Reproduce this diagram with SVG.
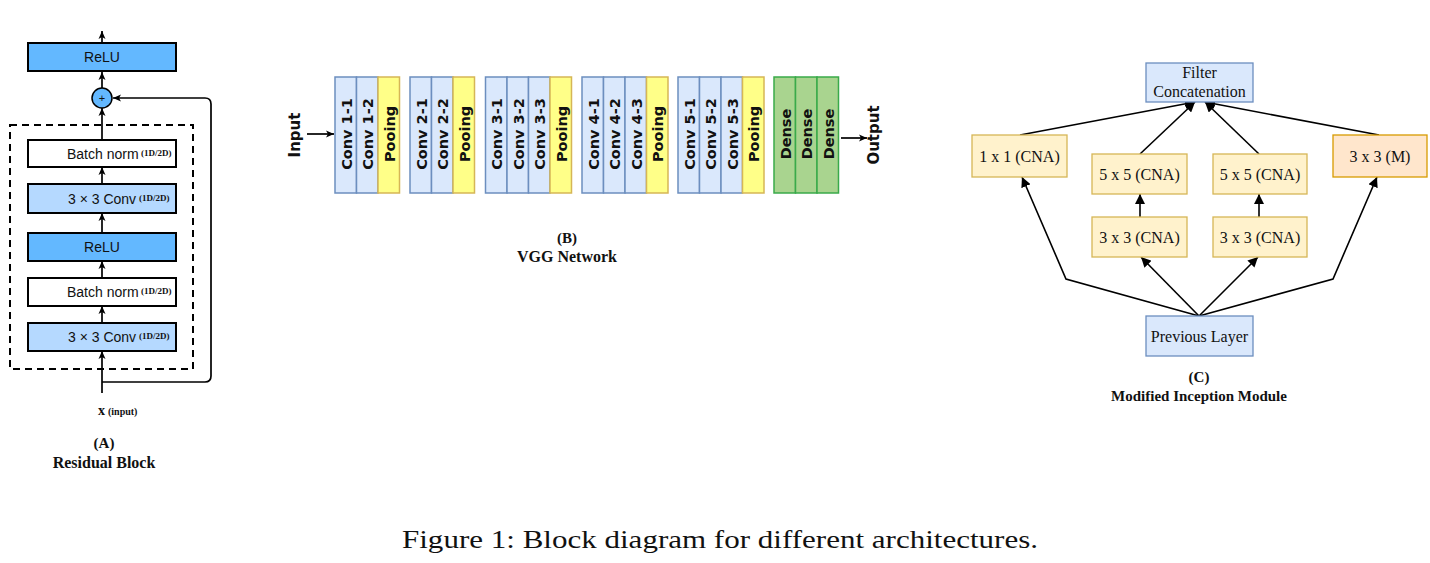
<svg xmlns="http://www.w3.org/2000/svg" width="1430" height="563" viewBox="0 0 1430 563">
<style>
.bx{stroke:#000;stroke-width:2}
.relu{fill:#63b8ff}
.conv{fill:#b5d9ff}
.bn{fill:#fff}
.ta{font-family:"Liberation Sans",Arial,sans-serif;font-size:14px;fill:#111}
.sup{font-family:"Liberation Serif","Times New Roman",serif;font-size:9px;font-weight:bold;fill:#111}
.la{stroke:#000;stroke-width:1.7;fill:none}
.ttl{font-family:"Liberation Serif","Times New Roman",serif;font-weight:bold;fill:#111;text-anchor:middle}
.cv{fill:#dae8fc;stroke:#6c8ebf;stroke-width:1.5}
.pl{fill:#ffff88;stroke:#d6b656;stroke-width:1.5}
.dn{fill:#a9d48f;stroke:#3aaa4a;stroke-width:1.5}
.tv{font-family:"DejaVu Sans",sans-serif;font-size:14.5px;font-weight:bold;fill:#111;text-anchor:middle}
.tio{font-family:"DejaVu Sans",sans-serif;font-size:15px;font-weight:bold;fill:#111;text-anchor:middle}
.y{fill:#fff2cc;stroke:#d6b656;stroke-width:1.3}
.o{fill:#ffe6cc;stroke:#d79b00;stroke-width:1.3}
.b{fill:#dae8fc;stroke:#6c8ebf;stroke-width:1.3}
.tc{font-family:"Liberation Serif","Times New Roman",serif;font-size:16px;fill:#111;text-anchor:middle}
.lc{stroke:#000;stroke-width:1.6;fill:none}
</style>
<defs>
<marker id="ma" markerUnits="userSpaceOnUse" markerWidth="9" markerHeight="8" refX="8" refY="4" orient="auto"><path d="M0,0.5 L8,4 L0,7.5 L2,4 z" fill="#000"/></marker>
<marker id="mc" markerUnits="userSpaceOnUse" markerWidth="11" markerHeight="10" refX="10" refY="5" orient="auto"><path d="M0,0 L10,5 L0,10 z" fill="#000"/></marker>
</defs>

<!-- Panel A -->
<g id="connectors-a">
<line class="la" x1="102" y1="43" x2="102" y2="31" marker-end="url(#ma)"/>
<line class="la" x1="102" y1="88" x2="102" y2="72" marker-end="url(#ma)"/>
<line class="la" x1="102" y1="140" x2="102" y2="108" marker-end="url(#ma)"/>
<line class="la" x1="102" y1="184" x2="102" y2="167" marker-end="url(#ma)"/>
<line class="la" x1="102" y1="233" x2="102" y2="213" marker-end="url(#ma)"/>
<line class="la" x1="102" y1="278" x2="102" y2="261" marker-end="url(#ma)"/>
<line class="la" x1="102" y1="323" x2="102" y2="306" marker-end="url(#ma)"/>
<line class="la" x1="102" y1="393" x2="102" y2="351" marker-end="url(#ma)"/>
<path class="la" d="M102,382 H205 Q211,382 211,376 V104 Q211,98 205,98 H113" marker-end="url(#ma)"/>
</g>
<rect id="dashed-block" x="10" y="125" width="183" height="244" fill="none" stroke="#000" stroke-width="2" stroke-dasharray="7,5"/>
<g id="a-relu-top"><rect class="bx relu" x="28" y="43" width="148" height="28"/><text class="ta" x="102" y="62" text-anchor="middle" font-size="13.5">ReLU</text></g>
<g id="a-add"><circle cx="102" cy="98" r="10" fill="#63b8ff" stroke="#000" stroke-width="1.5"/><text x="102" y="102" font-family="Liberation Sans,sans-serif" font-size="11" text-anchor="middle" fill="#111">+</text></g>
<g id="a-bn1"><rect class="bx bn" x="28" y="140" width="148" height="27"/><text class="ta" x="67" y="159">Batch norm</text><text class="sup" x="141" y="156">(1D/2D)</text></g>
<g id="a-conv1"><rect class="bx conv" x="28" y="184" width="148" height="29"/><text class="ta" x="68" y="204">3 × 3 Conv</text><text class="sup" x="139" y="201">(1D/2D)</text></g>
<g id="a-relu2"><rect class="bx relu" x="28" y="233" width="148" height="28"/><text class="ta" x="102" y="252" text-anchor="middle" font-size="13.5">ReLU</text></g>
<g id="a-bn2"><rect class="bx bn" x="28" y="278" width="148" height="28"/><text class="ta" x="67" y="297">Batch norm</text><text class="sup" x="141" y="294">(1D/2D)</text></g>
<g id="a-conv2"><rect class="bx conv" x="28" y="323" width="148" height="28"/><text class="ta" x="68" y="342">3 × 3 Conv</text><text class="sup" x="139" y="339">(1D/2D)</text></g>
<text x="98" y="415" font-family="Liberation Serif,serif" font-weight="bold" fill="#111"><tspan font-size="14">x</tspan><tspan font-size="10" dx="3">(input)</tspan></text>
<text class="ttl" x="104" y="448" font-size="15">(A)</text>
<text class="ttl" x="104" y="468" font-size="16">Residual Block</text>

<!-- Panel B -->
<g id="connectors-b">
<line class="la" x1="307" y1="134" x2="334" y2="134" marker-end="url(#ma)"/>
<line class="la" x1="841" y1="138" x2="867" y2="138" marker-end="url(#ma)"/>
</g>
<text class="tio" transform="translate(300,135) rotate(-90)">Input</text>
<text class="tio" transform="translate(879,135) rotate(-90)">Output</text>
<g id="b-block1">
<rect class="cv" x="335" y="77" width="21.5" height="116"/><text class="tv" transform="translate(351.5,134) rotate(-90)">Conv 1-1</text>
<rect class="cv" x="356.5" y="77" width="21.5" height="116"/><text class="tv" transform="translate(373,134) rotate(-90)">Conv 1-2</text>
<rect class="pl" x="378" y="77" width="21.5" height="116"/><text class="tv" transform="translate(394.5,134) rotate(-90)">Pooing</text>
</g>
<g id="b-block2">
<rect class="cv" x="410" y="77" width="21.5" height="116"/><text class="tv" transform="translate(426.5,134) rotate(-90)">Conv 2-1</text>
<rect class="cv" x="431.5" y="77" width="21.5" height="116"/><text class="tv" transform="translate(448,134) rotate(-90)">Conv 2-2</text>
<rect class="pl" x="453" y="77" width="21.5" height="116"/><text class="tv" transform="translate(469.5,134) rotate(-90)">Pooing</text>
</g>
<g id="b-block3">
<rect class="cv" x="485.5" y="77" width="21.5" height="116"/><text class="tv" transform="translate(502,134) rotate(-90)">Conv 3-1</text>
<rect class="cv" x="507" y="77" width="21.5" height="116"/><text class="tv" transform="translate(523.5,134) rotate(-90)">Conv 3-2</text>
<rect class="cv" x="528.5" y="77" width="21.5" height="116"/><text class="tv" transform="translate(545,134) rotate(-90)">Conv 3-3</text>
<rect class="pl" x="550" y="77" width="21.5" height="116"/><text class="tv" transform="translate(566.5,134) rotate(-90)">Pooing</text>
</g>
<g id="b-block4">
<rect class="cv" x="582" y="77" width="21.5" height="116"/><text class="tv" transform="translate(598.5,134) rotate(-90)">Conv 4-1</text>
<rect class="cv" x="603.5" y="77" width="21.5" height="116"/><text class="tv" transform="translate(620,134) rotate(-90)">Conv 4-2</text>
<rect class="cv" x="625" y="77" width="21.5" height="116"/><text class="tv" transform="translate(641.5,134) rotate(-90)">Conv 4-3</text>
<rect class="pl" x="646.5" y="77" width="21.5" height="116"/><text class="tv" transform="translate(663,134) rotate(-90)">Pooing</text>
</g>
<g id="b-block5">
<rect class="cv" x="678" y="77" width="21.5" height="116"/><text class="tv" transform="translate(694.5,134) rotate(-90)">Conv 5-1</text>
<rect class="cv" x="699.5" y="77" width="21.5" height="116"/><text class="tv" transform="translate(716,134) rotate(-90)">Conv 5-2</text>
<rect class="cv" x="721" y="77" width="21.5" height="116"/><text class="tv" transform="translate(737.5,134) rotate(-90)">Conv 5-3</text>
<rect class="pl" x="742.5" y="77" width="21.5" height="116"/><text class="tv" transform="translate(759,134) rotate(-90)">Pooing</text>
</g>
<g id="b-dense">
<rect class="dn" x="774" y="77" width="21.5" height="116"/><text class="tv" transform="translate(790.5,134) rotate(-90)">Dense</text>
<rect class="dn" x="795.5" y="77" width="21.5" height="116"/><text class="tv" transform="translate(812,134) rotate(-90)">Dense</text>
<rect class="dn" x="817" y="77" width="21.5" height="116"/><text class="tv" transform="translate(833.5,134) rotate(-90)">Dense</text>
</g>
<text class="ttl" x="567" y="243" font-size="15">(B)</text>
<text class="ttl" x="567" y="262" font-size="16">VGG Network</text>

<!-- Panel C -->
<g id="connectors-c">
<line class="lc" x1="1020" y1="135" x2="1195" y2="102" marker-end="url(#mc)"/>
<line class="lc" x1="1140" y1="154" x2="1195" y2="102" marker-end="url(#mc)"/>
<line class="lc" x1="1259" y1="154" x2="1205" y2="102" marker-end="url(#mc)"/>
<line class="lc" x1="1379" y1="135" x2="1205" y2="102" marker-end="url(#mc)"/>
<line class="lc" x1="1140" y1="217" x2="1140" y2="194" marker-end="url(#mc)"/>
<line class="lc" x1="1259" y1="217" x2="1259" y2="194" marker-end="url(#mc)"/>
<line class="lc" x1="1199" y1="316" x2="1141" y2="257" marker-end="url(#mc)"/>
<line class="lc" x1="1199" y1="316" x2="1258" y2="257" marker-end="url(#mc)"/>
<polyline class="lc" points="1199,316 1066,279 1022,177" marker-end="url(#mc)"/>
<polyline class="lc" points="1199,316 1333,279 1377,177" marker-end="url(#mc)"/>
</g>
<g id="c-filter"><rect class="b" x="1146" y="63" width="107" height="39"/><text class="tc" x="1199.5" y="78" font-size="13">Filter</text><text class="tc" x="1199.5" y="97" font-size="13">Concatenation</text></g>
<g id="c-1x1"><rect class="y" x="972" y="135" width="95" height="42"/><text class="tc" x="1019.5" y="161.5">1 x 1 (CNA)</text></g>
<g id="c-5x5a"><rect class="y" x="1092" y="154" width="95" height="40"/><text class="tc" x="1139.5" y="179.5">5 x 5 (CNA)</text></g>
<g id="c-5x5b"><rect class="y" x="1213" y="154" width="94" height="40"/><text class="tc" x="1260" y="179.5">5 x 5 (CNA)</text></g>
<g id="c-3x3m"><rect class="o" x="1333" y="135" width="94" height="42"/><text class="tc" x="1380" y="161.5">3 x 3 (M)</text></g>
<g id="c-3x3a"><rect class="y" x="1092" y="217" width="95" height="40"/><text class="tc" x="1139.5" y="242.5">3 x 3 (CNA)</text></g>
<g id="c-3x3b"><rect class="y" x="1213" y="217" width="94" height="40"/><text class="tc" x="1260" y="242.5">3 x 3 (CNA)</text></g>
<g id="c-prev"><rect class="b" x="1146" y="316" width="107" height="40"/><text class="tc" x="1199.5" y="341.5">Previous Layer</text></g>
<text class="ttl" x="1199" y="382" font-size="15">(C)</text>
<text class="ttl" x="1199" y="401" font-size="15">Modified Inception Module</text>

<text x="402" y="548" font-family="Liberation Serif,serif" font-size="26" fill="#111" textLength="636" lengthAdjust="spacingAndGlyphs">Figure 1: Block diagram for different architectures.</text>
</svg>
